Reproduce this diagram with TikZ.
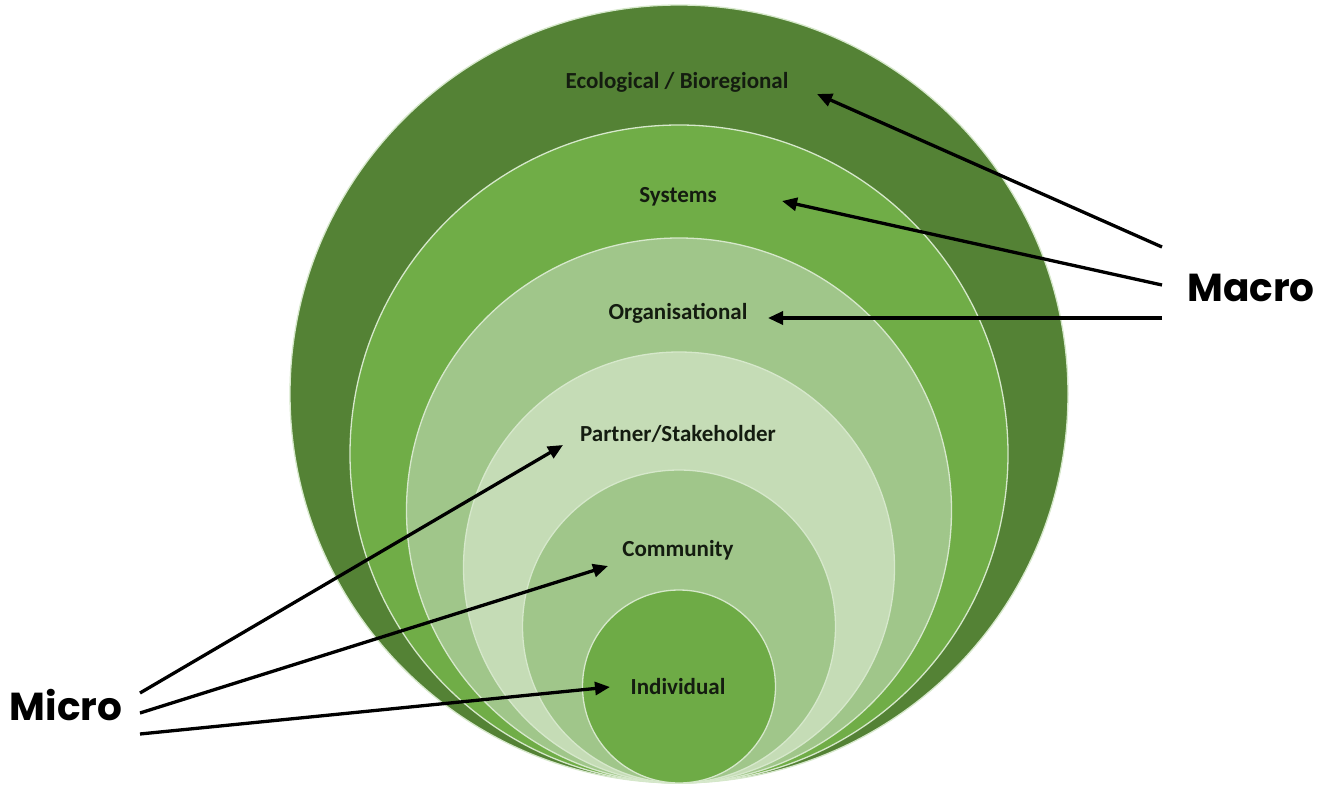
\documentclass[tikz,border=0pt]{standalone}
\usepackage{fontspec}
\setmainfont{Carlito}
\newfontfamily\bigfont{Poppins}
\usetikzlibrary{arrows.meta}
\definecolor{cOuter}{HTML}{548235}
\definecolor{cSys}{HTML}{70AD47}
\definecolor{cOrg}{HTML}{A0C68A}
\definecolor{cPart}{HTML}{C5DCB6}
\definecolor{cComm}{HTML}{A0C68A}
\definecolor{cInd}{HTML}{6EAB46}
\definecolor{cEdge}{HTML}{D6E8CB}
\definecolor{cText}{HTML}{141C10}
\tikzset{
  ring/.style={circle, draw=cEdge, line width=1.3pt, inner sep=0pt},
  lvl/.style={font=\bfseries\fontsize{23}{26}\selectfont, text=cText, inner sep=0pt},
  bigword/.style={font=\bigfont\bfseries\fontsize{39}{44}\selectfont, text=black, inner sep=0pt},
  pointer/.style={line width=3.3pt, black, -{Triangle[length=15pt,width=13pt]}}
}
\begin{document}
\begin{tikzpicture}[x=1pt,y=-1pt]
\useasboundingbox (0,0) rectangle (1318,787);
\fill[white] (0,0) rectangle (1318,787);
% nested circles, all tangent at the bottom
\node[ring, fill=cOuter, minimum size=778pt] (rEco)  at (679,394) {};
\node[ring, fill=cSys,   minimum size=658pt] (rSys)  at (679,454) {};
\node[ring, fill=cOrg,   minimum size=545pt] (rOrg)  at (679,510.5) {};
\node[ring, fill=cPart,  minimum size=431pt] (rPart) at (679,567.5) {};
\node[ring, fill=cComm,  minimum size=313pt] (rComm) at (679,626.5) {};
\node[ring, fill=cInd,   minimum size=193pt] (rInd)  at (679,686.5) {};
% labels
\node[lvl] (eco)  at (677,82)  {Ecological / Bioregional};
\node[lvl] (sys)  at (678,197) {Systems};
\node[lvl] (org)  at (678,313) {Organisational};
\node[lvl] (part) at (678,434) {Partner/Stakeholder};
\node[lvl] (comm) at (678,550) {Community};
\node[lvl] (ind)  at (678,687) {Individual};
\node[bigword] (macro) at (1251,288) {Macro};
\node[bigword] (micro) at (66,705) {Micro};
% free ends
\coordinate (ma1) at (1162,247);
\coordinate (ma2) at (1162,285);
\coordinate (ma3) at (1162,318);
\coordinate (mi1) at (140,693);
\coordinate (mi2) at (140,713);
\coordinate (mi3) at (140,734);
% arrow tips near labels
\coordinate (tEco)  at (817,94);
\coordinate (tSys)  at (782,201);
\coordinate (tOrg)  at (768,318);
\coordinate (tPart) at (563,445);
\coordinate (tComm) at (608,566);
\coordinate (tInd)  at (610,687);
\draw[pointer] (ma1) -- (tEco);
\draw[pointer] (ma2) -- (tSys);
\draw[pointer] (ma3) -- (tOrg);
\draw[pointer] (mi1) -- (tPart);
\draw[pointer] (mi2) -- (tComm);
\draw[pointer] (mi3) -- (tInd);
\end{tikzpicture}
\end{document}
